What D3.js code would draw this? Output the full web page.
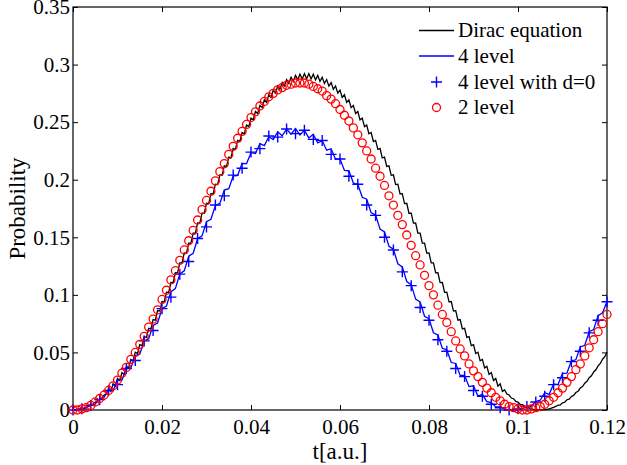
<!DOCTYPE html>
<html>
<head>
<meta charset="utf-8">
<script src="https://cdn.jsdelivr.net/npm/d3@7"></script>
<style>
body{margin:0;background:#fff;}
text{font-family:"Liberation Serif","Times New Roman",serif;fill:#000;}
</style>
</head>
<body>
<div id="plot"></div>
<script>
// axis ticks
var xTicks = [0, 0.02, 0.04, 0.06, 0.08, 0.1, 0.12];
var xTickLabels = ['0', '0.02', '0.04', '0.06', '0.08', '0.1', '0.12'];
var yTicks = [0, 0.05, 0.1, 0.15, 0.2, 0.25, 0.3, 0.35];
var yTickLabels = ['0', '0.05', '0.1', '0.15', '0.2', '0.25', '0.3', '0.35'];

var legendLabels = ['Dirac equation', '4 level', '4 level with d=0', '2 level'];

// Dirac equation, sampled every 0.0005 a.u. from t=0
var diracStep = 0.0005;
var dirac = [
0.0000,0.0001,0.0003,0.0006,0.0010,0.0016,0.0023,0.0032,0.0046,0.0048,
0.0069,0.0074,0.0098,0.0104,0.0130,0.0139,0.0185,0.0162,0.0227,0.0207,
0.0274,0.0256,0.0325,0.0309,0.0380,0.0366,0.0439,0.0427,0.0502,0.0491,
0.0568,0.0559,0.0637,0.0630,0.0710,0.0704,0.0785,0.0780,0.0863,0.0859,
0.0942,0.0939,0.1024,0.1022,0.1107,0.1106,0.1192,0.1191,0.1277,0.1277,
0.1364,0.1363,0.1450,0.1450,0.1537,0.1537,0.1624,0.1623,0.1710,0.1709,
0.1795,0.1793,0.1879,0.1876,0.1961,0.1958,0.2042,0.2038,0.2121,0.2115,
0.2197,0.2190,0.2271,0.2263,0.2342,0.2332,0.2410,0.2399,0.2475,0.2461,
0.2535,0.2520,0.2592,0.2575,0.2645,0.2626,0.2694,0.2672,0.2738,0.2714,
0.2778,0.2752,0.2814,0.2785,0.2844,0.2813,0.2870,0.2836,0.2890,0.2854,
0.2906,0.2867,0.2916,0.2875,0.2921,0.2877,0.2921,0.2875,0.2916,0.2867,
0.2906,0.2854,0.2890,0.2836,0.2870,0.2813,0.2844,0.2785,0.2814,0.2752,
0.2778,0.2714,0.2738,0.2672,0.2694,0.2626,0.2645,0.2575,0.2592,0.2520,
0.2535,0.2461,0.2475,0.2399,0.2410,0.2332,0.2342,0.2263,0.2271,0.2190,
0.2197,0.2115,0.2121,0.2038,0.2042,0.1958,0.1961,0.1876,0.1879,0.1793,
0.1795,0.1709,0.1710,0.1623,0.1624,0.1537,0.1537,0.1450,0.1450,0.1363,
0.1364,0.1277,0.1277,0.1191,0.1192,0.1106,0.1107,0.1022,0.1024,0.0939,
0.0942,0.0859,0.0863,0.0780,0.0785,0.0704,0.0710,0.0630,0.0637,0.0559,
0.0568,0.0491,0.0502,0.0427,0.0439,0.0366,0.0380,0.0309,0.0325,0.0256,
0.0274,0.0207,0.0227,0.0162,0.0175,0.0139,0.0130,0.0104,0.0098,0.0074,
0.0069,0.0048,0.0046,0.0032,0.0023,0.0016,0.0010,0.0006,0.0003,0.0001,
0.0000,0.0001,0.0003,0.0006,0.0010,0.0016,0.0023,0.0032,0.0041,0.0044,
0.0062,0.0067,0.0089,0.0095,0.0118,0.0127,0.0152,0.0163,0.0191,0.0204,
0.0233,0.0249,0.0280,0.0297,0.0330,0.0349,0.0383,0.0404,0.0441,0.0463,
0.0501
];

// 4 level model (line), every 0.001 a.u.
var level4Step = 0.001;
var level4 = [
0.0000,0.0002,0.0010,0.0022,0.0047,0.0053,0.0095,0.0110,0.0178,0.0168,
0.0262,0.0259,0.0361,0.0366,0.0474,0.0485,0.0599,0.0616,0.0735,0.0756,
0.0879,0.0903,0.1028,0.1054,0.1181,0.1208,0.1335,0.1361,0.1487,0.1512,
0.1635,0.1657,0.1777,0.1794,0.1910,0.1922,0.2032,0.2038,0.2141,0.2140,
0.2235,0.2227,0.2314,0.2296,0.2374,0.2348,0.2417,0.2381,0.2440,0.2395,
0.2444,0.2389,0.2429,0.2363,0.2394,0.2319,0.2340,0.2256,0.2269,0.2177,
0.2181,0.2081,0.2078,0.1971,0.1961,0.1847,0.1831,0.1713,0.1693,0.1571,
0.1547,0.1422,0.1396,0.1270,0.1243,0.1116,0.1089,0.0963,0.0938,0.0814,
0.0792,0.0671,0.0652,0.0536,0.0523,0.0412,0.0404,0.0300,0.0300,0.0203,
0.0210,0.0121,0.0136,0.0073,0.0064,0.0027,0.0027,0.0008,0.0002,0.0000,
0.0004,0.0012,0.0025,0.0035,0.0074,0.0085,0.0150,0.0136,0.0226,0.0221,
0.0319,0.0321,0.0427,0.0436,0.0548,0.0562,0.0680,0.0699,0.0820,0.0844,
0.0943
];

// 4 level with d=0 (markers), every 0.002 a.u.
var level4d0Step = 0.002;
var level4d0 = [
0.000,0.001,0.004,0.009,0.017,0.022,0.036,0.043,0.060,0.069,
0.088,0.098,0.118,0.129,0.149,0.159,0.178,0.186,0.204,0.210,
0.224,0.227,0.238,0.237,0.244,0.240,0.243,0.235,0.234,0.222,
0.218,0.203,0.196,0.178,0.169,0.150,0.139,0.120,0.108,0.089,
0.078,0.061,0.051,0.036,0.029,0.017,0.012,0.005,0.002,0.000,
0.001,0.003,0.007,0.012,0.022,0.028,0.042,0.051,0.067,0.078,
0.094
];

// 2 level model (circles), every 0.001 a.u.
var level2Step = 0.001;
var level2 = [
0.000,0.000,0.001,0.002,0.004,0.007,0.010,0.013,0.017,0.021,
0.026,0.032,0.037,0.044,0.050,0.057,0.064,0.072,0.079,0.087,
0.096,0.104,0.113,0.121,0.130,0.139,0.147,0.156,0.165,0.174,
0.182,0.190,0.199,0.207,0.214,0.222,0.229,0.236,0.242,0.248,
0.254,0.259,0.264,0.268,0.272,0.275,0.278,0.280,0.282,0.283,
0.284,0.284,0.284,0.283,0.281,0.279,0.277,0.273,0.270,0.266,
0.261,0.256,0.251,0.245,0.239,0.232,0.225,0.218,0.210,0.203,
0.195,0.186,0.178,0.169,0.161,0.152,0.143,0.134,0.126,0.117,
0.108,0.100,0.091,0.083,0.076,0.068,0.060,0.053,0.047,0.040,
0.034,0.029,0.024,0.019,0.015,0.011,0.008,0.005,0.003,0.002,
0.001,0.000,0.000,0.001,0.002,0.003,0.005,0.008,0.011,0.015,
0.019,0.024,0.029,0.035,0.040,0.047,0.054,0.061,0.068,0.075,
0.083
];

var W = 627, H = 465;
var margin = {t:7, r:20, b:55, l:73};
var width = W - margin.l - margin.r,
	height = H - margin.t - margin.b;
var serif = '"Liberation Serif", "Times New Roman", serif';

var svg = d3.select('#plot')
	.append('svg')
	.attr('width', W)
	.attr('height', H);

var x = d3.scaleLinear().domain([0, 0.12]).range([margin.l, margin.l + width]);
var y = d3.scaleLinear().domain([0, 0.35]).range([margin.t + height, margin.t]);

function toPoints(arr, step){
	return arr.map(function(v, i){ return {t: i * step, p: v}; });
}

// axes (ticks pointing inward on all four sides)
svg.append('g')
	.attr('transform', 'translate(0,' + (margin.t + height) + ')')
	.call(d3.axisBottom(x).tickValues(xTicks).tickSizeInner(-5).tickSizeOuter(0).tickPadding(9)
		.tickFormat(function(d, i){ return xTickLabels[i]; }))
	.attr('font-family', serif)
	.call(function(g){ g.select('.domain').remove(); g.selectAll('text').attr('font-size', 21); });

svg.append('g')
	.attr('transform', 'translate(' + margin.l + ',0)')
	.call(d3.axisLeft(y).tickValues(yTicks).tickSizeInner(-5).tickSizeOuter(0).tickPadding(3)
		.tickFormat(function(d, i){ return yTickLabels[i]; }))
	.attr('font-family', serif)
	.call(function(g){ g.select('.domain').remove(); g.selectAll('text').attr('font-size', 21); });

svg.append('g')
	.attr('transform', 'translate(0,' + margin.t + ')')
	.call(d3.axisTop(x).tickValues(xTicks).tickSizeInner(-5).tickSizeOuter(0).tickFormat(''))
	.call(function(g){ g.select('.domain').remove(); });

svg.append('g')
	.attr('transform', 'translate(' + (margin.l + width) + ',0)')
	.call(d3.axisRight(y).tickValues(yTicks).tickSizeInner(-5).tickSizeOuter(0).tickFormat(''))
	.call(function(g){ g.select('.domain').remove(); });

svg.append('rect')
	.attr('x', margin.l)
	.attr('y', margin.t)
	.attr('width', width)
	.attr('height', height)
	.attr('fill', 'none')
	.attr('stroke', '#000')
	.attr('stroke-width', 1.2);

// axis labels
svg.append('text')
	.attr('x', margin.l + width / 2)
	.attr('y', 459)
	.attr('text-anchor', 'middle')
	.attr('font-size', 23)
	.text('t[a.u.]');

svg.append('text')
	.attr('transform', 'translate(25,' + (margin.t + height / 2) + ') rotate(-90)')
	.attr('text-anchor', 'middle')
	.attr('font-size', 23)
	.text('Probability');

var line = d3.line()
	.x(function(d){ return x(d.t); })
	.y(function(d){ return y(d.p); });

// Dirac equation
svg.append('path')
	.datum(toPoints(dirac, diracStep))
	.attr('d', line)
	.attr('fill', 'none')
	.attr('stroke', '#000')
	.attr('stroke-width', 1.3);

// 4 level
svg.append('path')
	.datum(toPoints(level4, level4Step))
	.attr('d', line)
	.attr('fill', 'none')
	.attr('stroke', '#0000ff')
	.attr('stroke-width', 1.3);

// 4 level with d=0
var plus = 'M-5.5,0H5.5M0,-5.5V5.5';
svg.append('g').selectAll('path')
	.data(toPoints(level4d0, level4d0Step))
	.enter()
	.append('path')
	.attr('transform', function(d){ return 'translate(' + x(d.t) + ',' + y(d.p) + ')'; })
	.attr('d', plus)
	.attr('fill', 'none')
	.attr('stroke', '#0000ff')
	.attr('stroke-width', 1.4);

// 2 level
svg.append('g').selectAll('circle')
	.data(toPoints(level2, level2Step))
	.enter()
	.append('circle')
	.attr('cx', function(d){ return x(d.t); })
	.attr('cy', function(d){ return y(d.p); })
	.attr('r', 4)
	.attr('fill', 'none')
	.attr('stroke', '#ff0000')
	.attr('stroke-width', 1.3);

// legend (no box)
var legX0 = 419, legX1 = 454, legTextX = 458;
var legY = [30.5, 56, 82, 107.5];
var leg = svg.append('g');

leg.append('line').attr('x1', legX0).attr('x2', legX1).attr('y1', legY[0]).attr('y2', legY[0])
	.attr('stroke', '#000').attr('stroke-width', 1.3);
leg.append('line').attr('x1', legX0).attr('x2', legX1).attr('y1', legY[1]).attr('y2', legY[1])
	.attr('stroke', '#0000ff').attr('stroke-width', 1.3);
leg.append('path').attr('transform', 'translate(' + ((legX0 + legX1) / 2) + ',' + legY[2] + ')')
	.attr('d', plus).attr('stroke', '#0000ff').attr('stroke-width', 1.4);
leg.append('circle').attr('cx', (legX0 + legX1) / 2).attr('cy', legY[3]).attr('r', 4)
	.attr('fill', 'none').attr('stroke', '#ff0000').attr('stroke-width', 1.3);

legendLabels.forEach(function(s, i){
	leg.append('text')
		.attr('x', legTextX)
		.attr('y', legY[i])
		.attr('dy', '0.33em')
		.attr('font-size', 21)
		.text(s);
});
</script>
</body>
</html>
